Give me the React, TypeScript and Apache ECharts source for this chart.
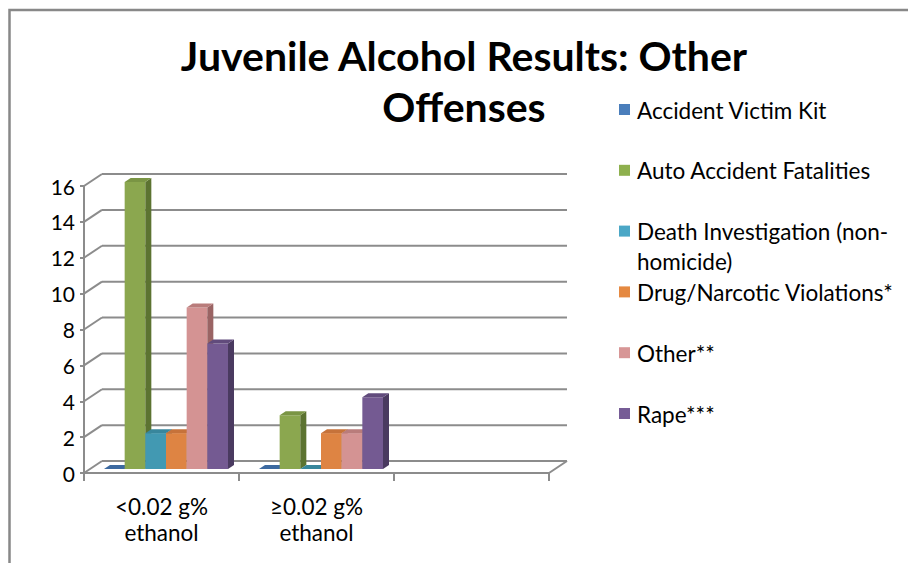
import React, { useEffect, useRef } from 'react';
import * as echarts from 'echarts';

// ---- data ----
const categories = ['<0.02 g%\nethanol', '≥0.02 g%\nethanol', ''];
const seriesNames = [
  'Accident Victim Kit',
  'Auto Accident Fatalities',
  'Death Investigation (non-homicide)',
  'Drug/Narcotic Violations*',
  'Other**',
  'Rape***',
];
const legendLabels = [
  'Accident Victim Kit',
  'Auto Accident Fatalities',
  'Death Investigation (non-\nhomicide)',
  'Drug/Narcotic Violations*',
  'Other**',
  'Rape***',
];
const accidentVictimKit = [0, 0];
const autoAccidentFatalities = [16, 3];
const deathInvestigation = [2, 0];
const drugNarcoticViolations = [2, 2];
const otherOffenses = [9, 2];
const rapeOffenses = [7, 4];
const yTickValues = [0, 2, 4, 6, 8, 10, 12, 14, 16];

const seriesValues = [
  accidentVictimKit,
  autoAccidentFatalities,
  deathInvestigation,
  drugNarcoticViolations,
  otherOffenses,
  rapeOffenses,
];

// ---- styles ----
const palette = [
  { legend: '#4A7EBB', front: '#4677B2', top: '#3C69A0', side: '#2D5283' },
  { legend: '#8EB04E', front: '#8BA74F', top: '#7A9544', side: '#5C7331' },
  { legend: '#4BA7C6', front: '#4299B2', top: '#38869C', side: '#2B6A7C' },
  { legend: '#E58941', front: '#DE8443', top: '#C6723A', side: '#A05A28' },
  { legend: '#D79696', front: '#D49393', top: '#B97C7B', side: '#9A6464' },
  { legend: '#765C96', front: '#745A92', top: '#614B7C', side: '#4A3A60' },
];
const FONT = 'Lato, "Open Sans", "Noto Sans", sans-serif';
const GRID_COLOR = '#8C8C8C';
const DX = 18;
const DY = -12;
const BDX = 6;
const BDY = -4;

function makeBarRenderer(sIdx: number) {
  return (params: any, api: any) => {
    const cat = api.value(0);
    const val = api.value(1);
    const catW = api.size([1, 0])[0];
    const base = api.coord([cat, 0]);
    const topPt = api.coord([cat, val]);
    const groupW = catW * 0.8;
    const w = groupW / seriesValues.length;
    const ox = 4.5;
    const oy = (DY - BDY) / 2;
    const x = base[0] - groupW / 2 + sIdx * w + ox;
    const yb = base[1] + oy;
    const yt = topPt[1] + oy;
    const c = palette[sIdx];
    return {
      type: 'group',
      children: [
        {
          type: 'rect',
          shape: { x, y: yt, width: w, height: Math.max(0, yb - yt) },
          style: { fill: c.front },
        },
        {
          type: 'polygon',
          shape: {
            points: [
              [x + w, yt],
              [x + w + BDX, yt + BDY],
              [x + w + BDX, yb + BDY],
              [x + w, yb],
            ],
          },
          style: { fill: c.side },
        },
        {
          type: 'polygon',
          shape: {
            points: [
              [x, yt],
              [x + w, yt],
              [x + w + BDX, yt + BDY],
              [x + BDX, yt + BDY],
            ],
          },
          style: { fill: c.top },
        },
      ],
    };
  };
}

function renderWall(params: any, api: any) {
  const cs = params.coordSys;
  const v = api.value(1);
  const y = api.coord([0, v])[1];
  const x0 = cs.x;
  const x1 = cs.x + cs.width;
  const st = { stroke: GRID_COLOR, lineWidth: 2 };
  const children: any[] = [
    { type: 'line', shape: { x1: x0 + DX, y1: y + DY, x2: x1 + DX, y2: y + DY }, style: st },
    { type: 'line', shape: { x1: x0, y1: y, x2: x0 + DX, y2: y + DY }, style: st },
  ];
  if (v === 0) {
    children.push({ type: 'line', shape: { x1: x1, y1: y, x2: x1 + DX, y2: y + DY }, style: st });
  }
  return { type: 'group', children };
}

const LEGEND_X = 619;
const LEGEND_Y0 = 110;
const LEGEND_STEP = 60.8;

export default function App() {
  const ref = useRef<HTMLDivElement>(null);
  useEffect(() => {
    if (!ref.current) return;
    const chart = echarts.init(ref.current, undefined, { renderer: 'svg' });

    const legendGraphics = legendLabels.map((label, i) => {
      const cy = LEGEND_Y0 + i * LEGEND_STEP;
      return {
        type: 'group',
        children: [
          {
            type: 'rect',
            shape: { x: LEGEND_X, y: cy - 6, width: 11, height: 11 },
            style: { fill: palette[i].legend },
          },
          {
            type: 'text',
            x: LEGEND_X + 18,
            y: cy - 15,
            style: {
              text: label,
              font: `22.5px ${FONT}`,
              fill: '#000',
              lineHeight: 30,
              verticalAlign: 'top',
              align: 'left',
            },
          },
        ],
      };
    });

    const option: any = {
      animation: false,
      backgroundColor: '#fff',
      title: {
        text: 'Juvenile Alcohol Results: Other\nOffenses',
        left: 464,
        top: 30,
        padding: 0,
        textAlign: 'center',
        textStyle: {
          fontFamily: FONT,
          fontSize: 41,
          fontWeight: 'bold',
          color: '#000',
          lineHeight: 51,
        },
      },
      grid: { left: 84, right: 359, top: 186, bottom: 90 },
      xAxis: {
        type: 'category',
        data: categories,
        axisLine: { show: true, lineStyle: { color: GRID_COLOR, width: 2 } },
        axisTick: { show: true, length: 8, lineStyle: { color: GRID_COLOR, width: 2 } },
        axisLabel: {
          interval: 0,
          fontFamily: FONT,
          fontSize: 22.5,
          lineHeight: 26,
          color: '#000',
          margin: 20,
        },
        splitLine: { show: false },
      },
      yAxis: {
        type: 'value',
        min: 0,
        max: 16,
        interval: 2,
        axisLine: { show: true, lineStyle: { color: GRID_COLOR, width: 2 } },
        axisTick: { show: true, length: 4, lineStyle: { color: GRID_COLOR, width: 2 } },
        axisLabel: { fontFamily: FONT, fontSize: 21, color: '#000', margin: 9 },
        splitLine: { show: false },
      },
      graphic: [
        {
          type: 'rect',
          shape: { x: 9.5, y: 10, width: 1200, height: 1200 },
          style: { fill: 'none', stroke: '#888', lineWidth: 2.5 },
          silent: true,
        },
        ...legendGraphics,
      ],
      series: [
        {
          type: 'custom',
          name: 'walls',
          silent: true,
          z: 1,
          renderItem: renderWall,
          data: yTickValues.map((v) => [0, v]),
          encode: { x: 0, y: 1 },
        },
        ...seriesNames.map((name, sIdx) => ({
          type: 'custom',
          name,
          z: 3,
          renderItem: makeBarRenderer(sIdx),
          data: seriesValues[sIdx].map((v, ci) => [ci, v]),
          encode: { x: 0, y: 1 },
        })),
      ],
    };
    chart.setOption(option);
    return () => chart.dispose();
  }, []);
  return (
    <div
      ref={ref}
      style={{ position: 'absolute', left: 0, top: 0, width: 908, height: 563 }}
    />
  );
}
